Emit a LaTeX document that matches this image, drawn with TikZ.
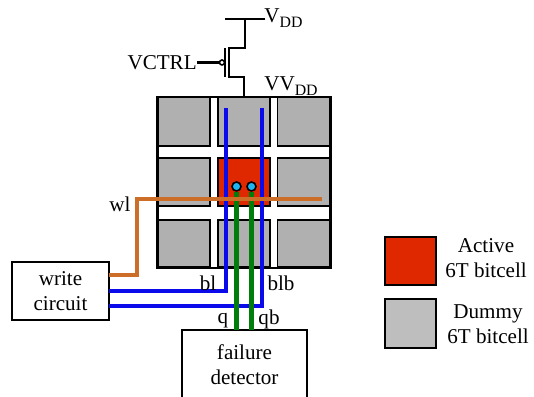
\documentclass[tikz,border=0pt]{standalone}
\usepackage{fontspec}
\setmainfont{Liberation Serif}
\usetikzlibrary{positioning, calc}
\definecolor{active}{RGB}{224, 40, 0}
\definecolor{dummy}{RGB}{176, 176, 176}
\definecolor{legdummy}{RGB}{190, 190, 190}
\definecolor{wlwire}{RGB}{204, 110, 40}
\definecolor{blwire}{RGB}{10, 10, 235}
\definecolor{qwire}{RGB}{0, 125, 10}
\definecolor{storage}{RGB}{30, 180, 240}
\newcommand{\subdd}{\raisebox{-0.45ex}{\fontsize{9}{9}\selectfont DD}}

\begin{document}
\begin{tikzpicture}[
    bitcell/.style={rectangle, draw, line width=0.8pt, inner sep=0pt, outer sep=0pt},
    legcell/.style={rectangle, draw, line width=1.2pt, minimum width=1.02cm, inner sep=0pt},
    block/.style={rectangle, draw, line width=0.8pt, align=center, inner sep=0pt, outer sep=0pt,
                  font=\fontsize{12}{14.2}\selectfont},
    lab/.style={inner sep=0pt, align=center, font=\fontsize{12}{14.2}\selectfont},
    pin/.style={circle, draw, line width=0.9pt, fill=storage, minimum size=0.18cm, inner sep=0pt},
    rail/.style={line width=1.2pt},
    blline/.style={line width=1.9pt, blwire},
    qline/.style={line width=2.4pt, qwire},
    wlline/.style={line width=1.9pt, wlwire}]
    \clip (0, 0) rectangle (10.68, 7.94);

    % Bitcells
    \node[bitcell, fill=dummy, minimum width=1.04cm, minimum height=0.98cm] (c11) at (3.68, 5.51) {};
    \node[bitcell, fill=dummy, minimum width=1.04cm, minimum height=0.98cm] (c12) at (4.88, 5.51) {};
    \node[bitcell, fill=dummy, minimum width=1.03cm, minimum height=0.98cm] (c13) at (6.07, 5.51) {};
    \node[bitcell, fill=dummy, minimum width=1.04cm, minimum height=0.96cm] (c21) at (3.68, 4.30) {};
    \node[bitcell, fill=active, minimum width=1.04cm, minimum height=0.96cm] (c22) at (4.88, 4.30) {};
    \node[bitcell, fill=dummy, minimum width=1.03cm, minimum height=0.96cm] (c23) at (6.07, 4.30) {};
    \node[bitcell, fill=dummy, minimum width=1.04cm, minimum height=0.94cm] (c31) at (3.68, 3.07) {};
    \node[bitcell, fill=dummy, minimum width=1.04cm, minimum height=0.94cm] (c32) at (4.88, 3.07) {};
    \node[bitcell, fill=dummy, minimum width=1.03cm, minimum height=0.94cm] (c33) at (6.07, 3.07) {};
    \node[rectangle, draw, line width=1.6pt, minimum width=3.46cm, minimum height=3.42cm, inner sep=0pt] (frame) at (4.88, 4.29) {};

    % Blocks
    \node[block, minimum width=1.94cm, minimum height=1.16cm] (write) at (1.21, 2.12) {write\\circuit};
    \node[block, minimum width=2.5cm, minimum height=1.4cm] (detector) at (4.89, 0.64) {failure\\detector};

    % Supply transistor
    \coordinate (vddleft) at (4.5, 7.56);
    \coordinate (vddright) at (5.3, 7.56);
    \coordinate (vddmid) at (4.9, 7.56);
    \coordinate (chantop) at (4.58, 6.98);
    \coordinate (chanbot) at (4.58, 6.40);
    \coordinate (gatetop) at (4.5, 6.98);
    \coordinate (gatebot) at (4.5, 6.40);
    \node[circle, draw, line width=0.9pt, fill=white, minimum size=0.1cm, inner sep=0pt] (bubble) at (4.44, 6.69) {};
    \node[lab, anchor=east] (vctrl) at (3.94, 6.69) {VCTRL};
    \node[lab, anchor=west] (vdd) at (5.28, 7.58) {V\subdd};
    \node[lab, anchor=west] (vvdd) at (5.28, 6.22) {VV\subdd};
    \draw[rail] (vddleft) -- (vddright);
    \draw[rail] (vddmid) |- (chantop) -- (chanbot) -| (frame.north);
    \draw[rail] (gatetop) -- (gatebot);
    \draw[rail] (vctrl.east) -- (bubble.west);

    % Storage nodes
    \node[pin] (qpin) at (4.73, 4.21) {};
    \node[pin] (qbpin) at (5.03, 4.21) {};

    % Wires
    \coordinate (bltop) at (4.52, 5.78);
    \coordinate (blbtop) at (5.24, 5.78);
    \coordinate (wlbend) at (2.74, 3.96);
    \coordinate (wlend) at (6.44, 3.96);
    \draw[blline] (bltop) |- (write.east);
    \draw[blline] (blbtop) |- ([yshift=-0.3cm]write.east);
    \draw[qline] (qpin.south) -- (qpin.south |- detector.north);
    \draw[qline] (qbpin.south) -- (qbpin.south |- detector.north);
    \draw[wlline] ([yshift=0.32cm]write.east) -| (wlbend) -- (wlend);

    % Wire labels
    \node[lab] (wl) at (2.40, 3.86) {wl};
    \node[lab] (bl) at (4.16, 2.28) {bl};
    \node[lab] (blb) at (5.62, 2.28) {blb};
    \node[lab] (q) at (4.46, 1.53) {q};
    \node[lab] (qb) at (5.38, 1.55) {qb};

    % Legend
    \node[legcell, fill=active, minimum height=0.96cm] (legactive) at (8.21, 2.72) {};
    \node[legcell, fill=legdummy, minimum height=0.98cm] (legdummy) at (8.21, 1.47) {};
    \node[lab] (activetext) at (9.72, 2.77) {Active\\6T bitcell};
    \node[lab] (dummytext) at (9.76, 1.46) {Dummy\\6T bitcell};
\end{tikzpicture}
\end{document}
